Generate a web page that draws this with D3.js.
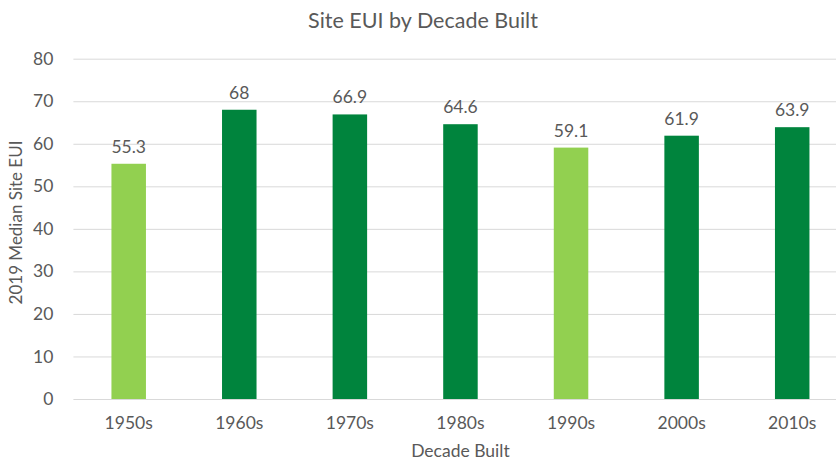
<!DOCTYPE html>
<html>
<head>
<meta charset="utf-8">
<script src="https://cdn.jsdelivr.net/npm/d3@7"></script>
<style>
  html, body { margin: 0; padding: 0; background: #fff; }
  svg text { font-family: Lato, "Open Sans", sans-serif; fill: #595959; }
</style>
</head>
<body>
<svg id="chart" width="836" height="462"></svg>
<script>
// Median site EUI by decade of construction
const decades = ["1950s", "1960s", "1970s", "1980s", "1990s", "2000s", "2010s"];
const medianEUI = [55.3, 68, 66.9, 64.6, 59.1, 61.9, 63.9];
const highlighted = ["1950s", "1990s"];
const yTicks = [0, 10, 20, 30, 40, 50, 60, 70, 80];

(function draw() {
  const svg = d3.select("#chart");
  const W = 836;
  const plotLeft = 73.4, plotRight = 847.5, plotTop = 58.7, plotBottom = 399;
  const fontStack = "Lato, 'Open Sans', sans-serif";
  const labelSize = 17.5;

  const x = d3.scaleBand()
    .domain(decades)
    .range([plotLeft, plotRight])
    .paddingInner(0.688)
    .paddingOuter(0.344);

  const y = d3.scaleLinear().domain([0, 80]).range([plotBottom, plotTop]);

  // Horizontal gridlines and y tick labels
  const yAxis = d3.axisLeft(y).tickValues(yTicks).tickSize(-(W - plotLeft)).tickPadding(20);
  const gy = svg.append("g").attr("transform", `translate(${plotLeft},0)`).call(yAxis);
  gy.select(".domain").remove();
  gy.selectAll(".tick line").attr("stroke", "#d9d9d9").attr("stroke-width", 1);
  gy.selectAll(".tick text").attr("font-size", labelSize).style("fill", "#595959")
    .style("font-family", fontStack);

  // Bars
  svg.append("g").selectAll("rect")
    .data(decades)
    .join("rect")
    .attr("x", d => x(d))
    .attr("width", x.bandwidth())
    .attr("y", (d, i) => y(medianEUI[i]))
    .attr("height", (d, i) => y(0) - y(medianEUI[i]))
    .attr("fill", d => highlighted.includes(d) ? "#92d050" : "#00843d");

  // Value labels above bars
  svg.append("g").selectAll("text")
    .data(decades)
    .join("text")
    .attr("x", d => x(d) + x.bandwidth() / 2)
    .attr("y", (d, i) => y(medianEUI[i]) - 11)
    .attr("text-anchor", "middle")
    .attr("font-size", labelSize)
    .text((d, i) => String(medianEUI[i]));

  // X axis
  const xAxis = d3.axisBottom(x).tickSize(0).tickPadding(18);
  const gx = svg.append("g").attr("transform", `translate(0,${plotBottom})`).call(xAxis);
  gx.select(".domain").remove();
  gx.selectAll(".tick text").attr("font-size", labelSize).style("fill", "#595959")
    .style("font-family", fontStack);

  // Titles
  svg.append("text")
    .attr("x", 423).attr("y", 28)
    .attr("text-anchor", "middle")
    .attr("font-size", 21.5)
    .text("Site EUI by Decade Built");

  svg.append("text")
    .attr("x", (plotLeft + plotRight) / 2).attr("y", 457)
    .attr("text-anchor", "middle")
    .attr("font-size", labelSize)
    .text("Decade Built");

  svg.append("text")
    .attr("transform", `translate(22,222.5) rotate(-90)`)
    .attr("text-anchor", "middle")
    .attr("font-size", 17)
    .text("2019 Median Site EUI");
})();
</script>
</body>
</html>
